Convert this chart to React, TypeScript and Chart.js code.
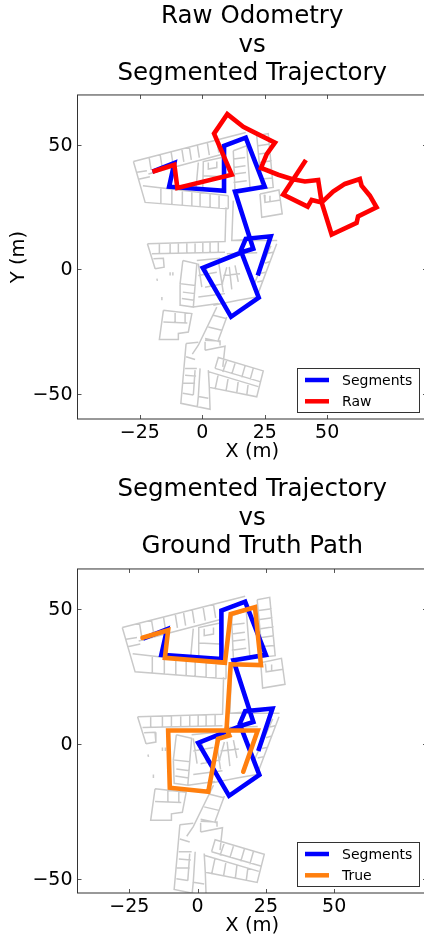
import React, { useEffect, useRef } from "react";
import { Chart, registerables } from "chart.js";

Chart.register(...registerables);

const FONT = "'DejaVu Sans'";

const xTickValues = [-25, 0, 25, 50];
const yTickValues = [-50, 0, 50];

const segmentsX = [-20, -11.2, -13.3, 8.7, 8.7, 17.4, 25, 13.1, 20.4, 15.8, 0.2, 11.5, 22.6, 15.4, 17.4, 27.4, 22.2];
const segmentsY = [39.2, 42.7, 33.2, 31.6, 49.6, 52.9, 33.2, 31.2, 8.3, 6.9, 0.6, -19, -11.3, 7.6, 12.3, 13.3, -2.4];

const rawX = [-20, -11.2, -10, 11.8, 4.7, 10, 16.4, 21.8, 29.1, 25.8, 23.5, 30.4, 35.8, 41.1, 46.4, 47.8, 51.8, 61.8, 62.4, 69.8, 67.1, 63.8, 63.1, 57.1, 52.4, 47.8, 43.8, 42.2, 32.4, 41.5];
const rawY = [39.2, 42, 32.7, 38, 54.5, 62.3, 57.2, 54.5, 50.9, 46.3, 40.7, 38, 36.3, 35.3, 35.9, 26.9, 14, 18.7, 21.3, 24.9, 29.6, 33.6, 36.3, 34.3, 31.2, 26.9, 27.9, 25.2, 30, 43.9];

const trueX = [-20.2, -10.8, -12, 10, 12.1, 21, 23.2, 12.1, 10.6, 11.6, 7.5, 3.9, -10.2, -10.8, 22, 16.7];
const trueY = [39.5, 42.3, 32.1, 30.3, 48.3, 50.8, 29.4, 29.7, 5.8, 3.3, 2.1, -17.5, -16, 5.2, 5.2, -10.1];

// floor-plan walls, each a flat x,y,x,y... polyline in metres
const mapWalls: number[][] = [
  // upper wing
  [-27.6, 43.3, 17.4, 54.9], [-27.6, 43.3, -22.9, 26.9, 10.4, 24.3], [-21.6, 38.3, 8.4, 46.3], [-23.8, 33.6, 10.4, 29.6],
  [-21.3, 44.9, -20.5, 39.9], [-16.9, 46.1, -16.1, 41.1], [-12.5, 47.2, -11.7, 42.1], [-8.2, 48.3, -7.4, 43.2],
  [-5.2, 49.1, -4.4, 44], [-2, 50, -1.2, 44.9], [2, 50.9, 2.8, 45.9], [5.8, 52, 6.6, 46.9],
  [-26.2, 39, -22.2, 39.6], [-25.6, 36.2, -21, 37.2],
  [-16.6, 32.8, -16.6, 26.4], [-12.2, 32.3, -12.2, 26], [-8, 31.7, -8, 25.7], [-4.2, 31.3, -4.2, 25.5],
  [-0.9, 30.9, -0.9, 25.2], [3.1, 30.4, 3.1, 24.9], [6.7, 30, 6.7, 24.7],
  [10.4, 29.6, 10.4, 24.3],
  // central offices
  [0.2, 32.9, 0.4, 43.3, 7.8, 44.9], [0.4, 37.6, 8.2, 37.2], [2.4, 42.9, 2.4, 40.3, 5.8, 40.9, 5.8, 43.3], [-1.6, 42.9, -2.5, 32.9],
  [12.4, 47.6, 17.8, 49.6], [12.4, 47.6, 13.1, 31.6], [17.8, 49.6, 19.1, 32.9],
  [12.5, 44.3, 17.2, 44.9], [12.5, 40.9, 17.3, 41.6], [13, 38.3, 17.5, 38.9], [12.5, 34.9, 17.8, 35.6],
  // right strip
  [21.8, 53.6, 26.4, 54.5, 28.4, 32.9, 23.8, 32.3, 21.8, 53.6],
  [22.4, 49.6, 27.1, 50.3], [22.7, 46.3, 27.4, 46.9], [23.1, 42.9, 27.8, 43.6], [23.4, 39.6, 28, 40.3], [23.6, 36.3, 28.2, 36.7],
  // right room
  [23.1, 30.3, 30.7, 31.9, 32, 22.3, 23.8, 20.9, 23.1, 30.3], [24.8, 30, 25.1, 26.9, 31.4, 27.9], [27.1, 29.6, 27.1, 27.5],
  // corridor
  [12.4, 27.6, 11.8, 11.6, 17.8, 12], [9.5, 24.9, 9.1, 10.9],
  // lower wing
  [-22, 10.3, 9.1, 11.2], [11.8, 11.6, 30, 11.6], [-22, 10.3, -18.9, 0.3], [-20.2, 6.3, 9.1, 6.9], [9.8, 6.3, 22, 6.7],
  [-17.2, 10.6, -17.2, 6.5], [-12.9, 10.7, -12.9, 6.5], [-9.6, 10.8, -9.6, 6.5], [-6.2, 10.8, -6.2, 6.6],
  [-2.9, 10.9, -2.9, 6.6], [0.2, 11, 0.2, 6.7], [3.1, 11, 3.1, 6.8], [6.4, 11.1, 6.4, 6.8],
  [-19.6, 4.3, -15.6, 4.5, -15.3, 0.9, -18.9, 0.3],
  [-7.8, 3.6, -2.2, 2.3, -2.9, -6.4, -8.9, -5.7, -7.8, 3.6], [-2.9, -6.4, -3.6, -15.1, -8.6, -14.4, -8.9, -5.7],
  [-7.8, -9.1, -2.9, -9.7], [-8.2, -11.7, -3.3, -12.4],
  [-2.2, 3.6, 7.1, 4.5], [-1.6, -2.4, 5.8, -1.1], [-1.6, -11.1, 9.1, -9.7], [-3.6, -15.1, 6.4, -13.7], [-1.6, 2.3, -0.2, -7.1],
  [29.8, 10.3, 21.8, -11.1], [27.5, 9.5, 20.5, -6.4],
  [26.5, 6.5, 28.7, 7], [25, 2.5, 27.2, 3.2], [23.5, -1.5, 25.8, -1], [22, -5, 24.2, -4.5],
  [9.8, 0.9, 7.8, -6.4], [13.1, 1.6, 14.4, -5], [8.4, -2.4, 15.1, -1.7], [1.1, -7.1, 8.4, -5.7], [4.4, -14.4, 14.4, -12.4],
  [6.6, 2.4, 8.4, -9.2], [10.8, 1, 11.8, -8], [14.4, -12.4, 21.8, -11.1], [1.2, 1.8, 3.4, -7],
  [-16.2, -11.1, -16.2, -12.4], [-18.2, -3.7, -18, -4.6], [-12.9, -1.1, -12.9, -2.4], [-11.8, -1.1, -11.8, -2.4],
  // diagonal corridor
  [5.8, -15.1, -1.6, -30.4, -4, -34], [9.8, -19.1, 6.4, -28.4], [4.4, -18.4, 9.5, -19.7], [2.4, -23.1, 7.8, -24.4], [1.1, -27.7, 7.1, -29],
  // small left room
  [-15.6, -16.4, -17.2, -28.1, -9.6, -28.1, -9.6, -25.7, -5.6, -25.1, -4.2, -17.7, -15.6, -16.4],
  [-15.6, -21.1, -6, -21.5], [-10.9, -16.8, -10.9, -21.1], [-6.9, -17.5, -6.9, -21.5],
  // bottom building
  [-6.5, -29.7, -8.6, -53.7, 3.1, -56.1, 2.8, -47.3, 21.8, -51.1, 24.4, -40.7, 6.4, -35.3, 5.1, -39.7],
  [-6.5, -29.7, -1.6, -29.2], [2.8, -47.3, 2.4, -40.4], [2.4, -41, 22.4, -47], [5.1, -39.7, 23.1, -45],
  [9.8, -36.4, 8.2, -41.1], [13.1, -37.7, 11.8, -42], [17.1, -38.8, 15.8, -43.3], [20.4, -39.7, 19.1, -44.4],
  [6.4, -42, 5.1, -48.1], [10.4, -43.3, 9.5, -48.7], [14.4, -44.7, 13.8, -49.5], [18.4, -45.7, 17.8, -50.4],
  [-6.5, -35, -2.9, -36.1], [-6.9, -39.7, -2.2, -39.7], [-6.9, -42.4, -2.5, -42.8], [-7.6, -45.7, -2.9, -45.7], [-7.8, -49.7, -3.6, -50.4],
  [-2.9, -40.4, -3.6, -50.4], [-0.9, -39.7, -1.6, -51], [-1.6, -51, 2.4, -51.7], [-1.6, -51, -2, -55],
  [1.1, -32.4, 9.1, -30.8, 8.2, -39.1], [1.1, -28.4, 7.1, -28.7, 7.1, -30.5], [1.1, -29, 1.1, -32.4],
];

const xy = (xs: number[], ys: number[]) => xs.map((x, i) => ({ x, y: ys[i] }));

const wallPoints = () => {
  const pts: { x: number; y: number | null }[] = [];
  mapWalls.forEach((w) => {
    for (let i = 0; i < w.length; i += 2) pts.push({ x: w[i], y: w[i + 1] });
    pts.push({ x: w[w.length - 2], y: null });
  });
  return pts;
};

const chromePlugin = (legendTop: number, legendH: number) => ({
  id: "chrome",
  afterDatasetsDraw(chart: any) {
    const { ctx, chartArea: a, scales } = chart;
    ctx.save();
    ctx.strokeStyle = "#555";
    ctx.lineWidth = 1;
    ctx.beginPath();
    xTickValues.forEach((v) => {
      const p = Math.round(scales.x.getPixelForValue(v)) + 0.5;
      ctx.moveTo(p, a.top); ctx.lineTo(p, a.top + 4);
      ctx.moveTo(p, a.bottom); ctx.lineTo(p, a.bottom - 4);
    });
    yTickValues.forEach((v) => {
      const p = Math.round(scales.y.getPixelForValue(v)) + 0.5;
      ctx.moveTo(a.left, p); ctx.lineTo(a.left + 4, p);
      ctx.moveTo(a.right, p); ctx.lineTo(a.right - 4, p);
    });
    ctx.stroke();
    ctx.strokeStyle = "#333";
    ctx.strokeRect(a.left, a.top, a.right - a.left, a.bottom - a.top);

    // legend
    const lx = 297.5, lw = 122;
    ctx.fillStyle = "#fff";
    ctx.fillRect(lx, legendTop, lw, legendH);
    ctx.strokeStyle = "#333";
    ctx.lineWidth = 1;
    ctx.strokeRect(lx, legendTop, lw, legendH);
    const items = chart.data.datasets.filter((d: any) => d.label);
    items.forEach((d: any, i: number) => {
      const y = legendTop + 11.5 + i * 21.3;
      ctx.strokeStyle = d.borderColor;
      ctx.lineWidth = 4.5;
      ctx.lineCap = "butt";
      ctx.beginPath();
      ctx.moveTo(305, y); ctx.lineTo(329, y);
      ctx.stroke();
      ctx.fillStyle = "#000";
      ctx.font = `14px ${FONT}`;
      ctx.textBaseline = "middle";
      ctx.textAlign = "left";
      ctx.fillText(d.label, 342, y + 1);
    });
    ctx.restore();
  },
});

type PanelProps = {
  top: number;
  height: number;
  title: string[];
  titlePad: { top: number; bottom: number };
  xMin: number; xMax: number; yMin: number; yMax: number;
  axisBottom: number;
  xTitlePad: number;
  yTitle: string;
  second: { label: string; color: string; xs: number[]; ys: number[]; cap: CanvasLineCap };
  legendTop: number;
};

function Panel(p: PanelProps) {
  const ref = useRef<HTMLCanvasElement>(null);
  useEffect(() => {
    const chart = new Chart(ref.current as HTMLCanvasElement, {
      type: "line",
      data: {
        datasets: [
          { label: "", data: wallPoints(), borderColor: "#c9c9c9", borderWidth: 1.5, pointRadius: 0, tension: 0, spanGaps: false, order: 3 },
          { label: "Segments", data: xy(segmentsX, segmentsY), borderColor: "#0000ff", borderWidth: 4.6, pointRadius: 0, tension: 0, borderJoinStyle: "miter", order: 2 },
          { label: p.second.label, data: xy(p.second.xs, p.second.ys), borderColor: p.second.color, borderWidth: 4.6, pointRadius: 0, tension: 0, borderJoinStyle: "miter", borderCapStyle: p.second.cap, order: 1 },
        ],
      } as any,
      options: {
        responsive: false,
        animation: false,
        parsing: false,
        normalized: false,
        layout: { autoPadding: false, padding: { right: 13, top: 0, bottom: 0, left: 0 } },
        plugins: {
          legend: { display: false },
          tooltip: { enabled: false },
          title: {
            display: true,
            text: p.title,
            fullSize: false,
            color: "#000",
            font: { family: FONT, size: 24.5, weight: "normal", lineHeight: 1.175 },
            padding: p.titlePad,
          },
        },
        scales: {
          x: {
            type: "linear",
            min: p.xMin,
            max: p.xMax,
            grid: { display: false, drawTicks: false, tickLength: 0 },
            border: { display: false },
            afterBuildTicks: (s: any) => { s.ticks = xTickValues.map((value) => ({ value })); },
            afterFit: (s: any) => { s.height = p.height - p.axisBottom; },
            ticks: {
              color: "#000", padding: 3, maxRotation: 0, autoSkip: false,
              font: { family: FONT, size: 19 },
              callback: (v: any) => (v < 0 ? "\u2212" + Math.abs(v) : String(v)),
            },
            title: { display: true, text: "X (m)", color: "#000", font: { family: FONT, size: 19.5 }, padding: { top: 0, bottom: p.xTitlePad } },
          },
          y: {
            type: "linear",
            min: p.yMin,
            max: p.yMax,
            grid: { display: false, drawTicks: false, tickLength: 0 },
            border: { display: false },
            afterBuildTicks: (s: any) => { s.ticks = yTickValues.map((value) => ({ value })); },
            afterFit: (s: any) => { s.width = 77.5; },
            ticks: {
              color: "#000", padding: 5, autoSkip: false, labelOffset: 1,
              font: { family: FONT, size: 19 },
              callback: (v: any) => (v < 0 ? "\u2212" + Math.abs(v) : String(v)),
            },
            title: { display: !!p.yTitle, text: p.yTitle, color: "#000", font: { family: FONT, size: 19.5 }, padding: { top: 7.5, bottom: 0 } },
          },
        },
      } as any,
      plugins: [chromePlugin(p.legendTop, 44)],
    } as any);
    return () => chart.destroy();
  }, []);
  return (
    <canvas
      ref={ref}
      width={440}
      height={p.height}
      style={{ position: "absolute", left: 0, top: p.top, width: 440, height: p.height, display: "block" }}
    />
  );
}

export default function App() {
  return (
    <div style={{ position: "absolute", left: 0, top: 0, width: 424, height: 940, overflow: "hidden", background: "#fff" }}>
      <Panel
        top={0} height={470}
        title={["Raw Odometry", "vs", "Segmented Trajectory"]}
        titlePad={{ top: 2, bottom: 6.6 }}
        xMin={-50} xMax={90} yMin={-60} yMax={70}
        axisBottom={419}
        xTitlePad={6.1}
        yTitle="Y (m)"
        second={{ label: "Raw", color: "#ff0000", xs: rawX, ys: rawY, cap: "butt" }}
        legendTop={368.5}
      />
      <Panel
        top={470} height={470}
        title={["Segmented Trajectory", "vs", "Ground Truth Path"]}
        titlePad={{ top: 5, bottom: 7.6 }}
        xMin={-44} xMax={84} yMin={-55} yMax={65}
        axisBottom={423}
        xTitlePad={2.1}
        yTitle=""
        second={{ label: "True", color: "#ff7f0e", xs: trueX, ys: trueY, cap: "round" }}
        legendTop={372.5}
      />
    </div>
  );
}
